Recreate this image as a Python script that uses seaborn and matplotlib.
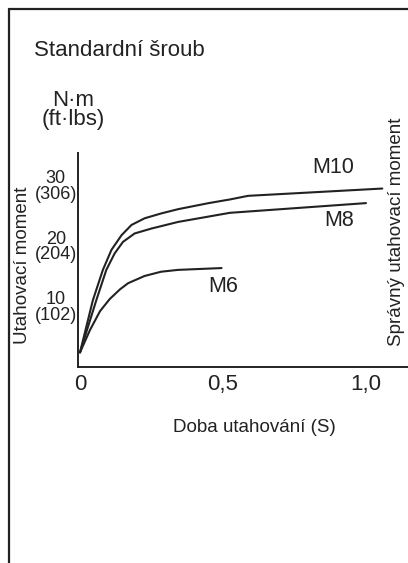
import numpy as np
import pandas as pd
import matplotlib
matplotlib.use("Agg")
import matplotlib.pyplot as plt
from matplotlib.lines import Line2D
import seaborn as sns

# Данные (время, с; момент, N·m)
m10_t = [0, 0.045, 0.080, 0.110, 0.145, 0.180, 0.226, 0.284, 0.343, 0.45, 0.524, 0.588, 1.057]
m10_v = [2.4, 11.0, 16.0, 19.3, 21.7, 23.4, 24.5, 25.3, 26.0, 27.0, 27.6, 28.2, 29.4]
m8_t = [0, 0.057, 0.092, 0.121, 0.150, 0.191, 0.249, 0.343, 0.524, 1.0]
m8_v = [2.4, 11.0, 16.0, 18.7, 20.6, 22.0, 22.8, 23.9, 25.4, 27.0]
m6_t = [0, 0.035, 0.07, 0.104, 0.14, 0.168, 0.226, 0.284, 0.343, 0.495]
m6_v = [2.4, 6.1, 9.2, 11.2, 12.8, 13.8, 15.0, 15.7, 16.0, 16.3]

x_ticks = [0, 0.5, 1.0]
x_labels = ["0", "0,5", "1,0"]
y_ticks = [10, 20, 30]
y_labels = ["10\n(102)", "20\n(204)", "30\n(306)"]

df = pd.concat([
    pd.DataFrame({"t": m10_t, "v": m10_v, "bolt": "M10"}),
    pd.DataFrame({"t": m8_t, "v": m8_v, "bolt": "M8"}),
    pd.DataFrame({"t": m6_t, "v": m6_v, "bolt": "M6"}),
])

sns.set_style("white")
plt.rcParams["font.family"] = ["Liberation Sans", "DejaVu Sans"]
ink = "#222222"

W, H = 408, 563
fig = plt.figure(figsize=(W / 100, H / 100), dpi=100)

# оси в пикселях: y-ось x=78.3, x-ось y=367, верх 153
left, bottom, top = 78.3, 367, 153
ax = fig.add_axes([left / W, (H - bottom) / H, 1 - left / W, (bottom - top) / H])

sns.lineplot(data=df, x="t", y="v", hue="bolt", units="bolt", estimator=None,
             sort=False, palette={"M10": ink, "M8": ink, "M6": ink},
             linewidth=1.5, legend=False, ax=ax)
for ln in ax.lines:
    ln.set_solid_joinstyle("round")

px_per_x = 286.0
px_per_y = 6.07
ax.set_xlim((left - 80) / px_per_x, (W - 80) / px_per_x)
ax.set_ylim(0, (bottom - top) / px_per_y)

ax.set_xticks(x_ticks)
ax.set_xticklabels(x_labels, fontsize=16, color=ink)
ax.set_yticks(y_ticks)
ax.set_yticklabels(y_labels, fontsize=13, color=ink, linespacing=0.9,
                   multialignment="center")
ax.tick_params(axis="both", direction="in", length=6.5, width=1.4, color=ink)
ax.tick_params(axis="x", pad=5)
ax.tick_params(axis="y", pad=1)
ax.set_xlabel("")
ax.set_ylabel("")

for s in ["top", "right"]:
    ax.spines[s].set_visible(False)
for s in ["left", "bottom"]:
    ax.spines[s].set_linewidth(1.4)
    ax.spines[s].set_color(ink)

# подписи кривых
ax.text(0.885, 32.8, "M10", fontsize=15.5, ha="center", va="center", color=ink)
ax.text(0.906, 24.2, "M8", fontsize=15.5, ha="center", va="center", color=ink)
ax.text(0.5, 13.3, "M6", fontsize=15.5, ha="center", va="center", color=ink)
ax.text(1.108, 22.2, "Správný utahovací moment", fontsize=13.5, rotation=90,
        ha="center", va="center", color=ink, clip_on=False)

def fx(px):
    return px / W

def fy(py):
    return 1 - py / H

fig.text(fx(34), fy(50), "Standardní šroub", fontsize=16, ha="left", va="center", color=ink)
fig.text(fx(73), fy(100), "N·m", fontsize=16, ha="center", va="center", color=ink)
fig.text(fx(73), fy(119), "(ft·lbs)", fontsize=16, ha="center", va="center", color=ink)
fig.text(fx(23), fy(265), "Utahovací moment", fontsize=13.5, rotation=90,
         ha="center", va="center", color=ink)
fig.text(fx(254), fy(427), "Doba utahování (S)", fontsize=13.5, ha="center",
         va="center", color=ink)

# рамка слева и сверху
fig.add_artist(Line2D([fx(9), fx(9)], [fy(9), 0], color=ink, linewidth=1.6))
fig.add_artist(Line2D([fx(9), 1], [fy(9), fy(9)], color=ink, linewidth=1.6))

fig.savefig("out.png", dpi=100)
